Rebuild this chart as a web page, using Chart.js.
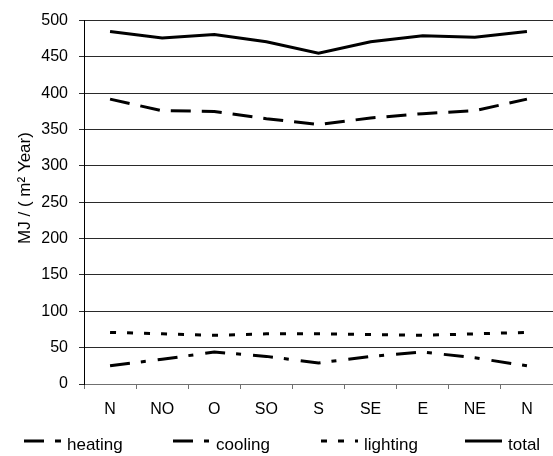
<!DOCTYPE html>
<html>
<head>
  <meta charset="UTF-8">
  <title>Energy demand by orientation</title>
  <style>
    html, body { margin: 0; padding: 0; background: #fff; }
    .chart-container { position: relative; width: 553px; height: 456px; }
  </style>
</head>
<body>
  <div class="chart-container">
    <canvas id="energyChart" width="553" height="456"></canvas>
  </div>

  <script src="https://cdn.jsdelivr.net/npm/chart.js@4.4.1/dist/chart.umd.min.js"></script>
  <script>
    // Orientation of the building (x axis)
    const orientations = ['N', 'NO', 'O', 'SO', 'S', 'SE', 'E', 'NE', 'N'];

    // MJ / (m2 year)
    const heating  = [392, 376, 375, 365, 357, 366, 372, 376, 392];
    const cooling  = [25, 34, 44, 38, 29, 38, 44, 36, 25];
    const lighting = [71, 69, 67, 69, 69, 68, 67, 69, 71];
    const total    = [485, 476, 481, 471, 455, 471, 479, 477, 485];

    const yMin = 0;
    const yMax = 500;
    const yStep = 50;
    const yTitle = 'MJ / ( m² Year)';

    Chart.defaults.font.family = '"Liberation Sans", Arial, sans-serif';
    Chart.defaults.color = '#000';

    // Legend start x for each item (layout only)
    const legendX = [24, 173, 321, 465];

    // Excel-like legend under the plot + rotated y title
    const excelLegend = {
      id: 'excelLegend',
      afterDraw(chart) {
        const c = chart.ctx;
        c.save();
        c.font = '17px "Liberation Sans"';
        c.fillStyle = '#000';
        c.textBaseline = 'alphabetic';
        c.lineCap = 'butt';
        chart.data.datasets.forEach((ds, i) => {
          const x = legendX[i];
          c.beginPath();
          c.setLineDash(ds.borderDash || []);
          c.lineWidth = 3;
          c.strokeStyle = ds.borderColor;
          c.moveTo(x, 441);
          c.lineTo(x + 37, 441);
          c.stroke();
          c.setLineDash([]);
          c.fillText(ds.label, x + 43, 450);
        });

        c.translate(30, 188);
        c.rotate(-Math.PI / 2);
        c.textAlign = 'center';
        c.fillText(yTitle, 0, 0);
        c.restore();
      }
    };

    const lineStyle = {
      borderColor: '#000',
      backgroundColor: '#000',
      borderWidth: 3,
      pointRadius: 0,
      pointHoverRadius: 0,
      tension: 0,
      fill: false
    };

    const ctx = document.getElementById('energyChart').getContext('2d');
    const energyChart = new Chart(ctx, {
      type: 'line',
      data: {
        labels: orientations,
        datasets: [
          { label: 'heating',  data: heating,  borderDash: [20, 11], ...lineStyle },
          { label: 'cooling',  data: cooling,  borderDash: [20, 11, 5, 12], ...lineStyle },
          { label: 'lighting', data: lighting, borderDash: [6, 11], ...lineStyle },
          { label: 'total',    data: total,    borderDash: [], ...lineStyle }
        ]
      },
      options: {
        responsive: false,
        animation: false,
        devicePixelRatio: 1,
        layout: { padding: { top: 18, right: 0, bottom: 37, left: 0 } },
        plugins: {
          legend: { display: false },
          tooltip: { enabled: false }
        },
        scales: {
          x: {
            offset: true,
            grid: {
              offset: true,
              drawOnChartArea: false,
              drawTicks: true,
              tickLength: 5,
              color: '#707070'
            },
            border: { color: '#707070', width: 1 },
            ticks: {
              font: { size: 16 },
              color: '#000',
              padding: 11,
              maxRotation: 0,
              autoSkip: false
            },
            afterFit: (scale) => { scale.height = 35; }
          },
          y: {
            min: yMin,
            max: yMax,
            grid: { color: '#2a2a2a', tickLength: 5 },
            border: { color: '#000', width: 1 },
            ticks: {
              stepSize: yStep,
              font: { size: 16 },
              color: '#000',
              padding: 11
            },
            afterFit: (scale) => { scale.width = 84; }
          }
        }
      },
      plugins: [excelLegend]
    });
  </script>
</body>
</html>
